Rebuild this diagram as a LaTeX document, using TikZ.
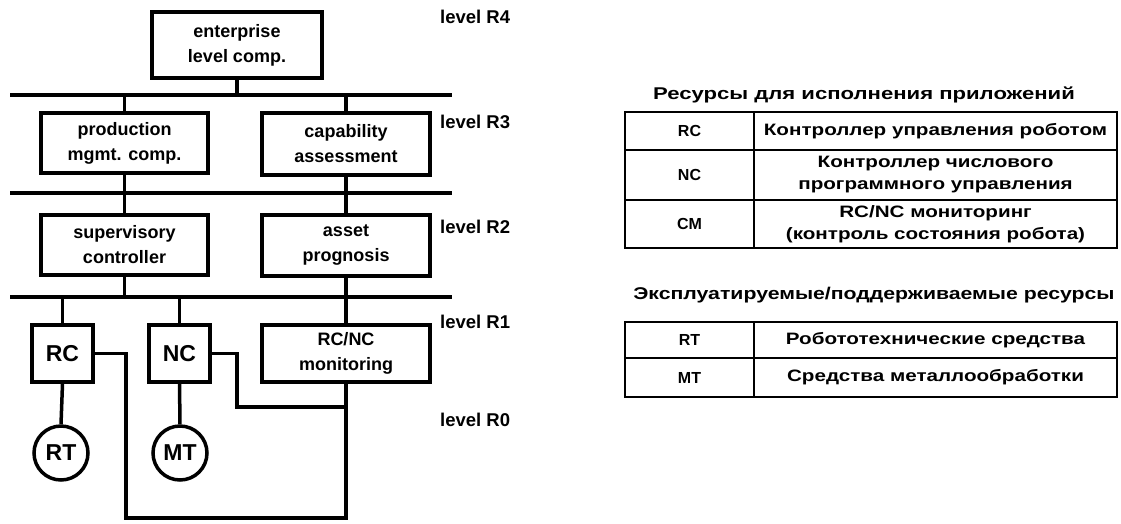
\documentclass[tikz,border=0pt]{standalone}
\usepackage{fontspec}
\setmainfont{Liberation Sans}
\newfontfamily\widefont[FakeStretch=1.25]{Liberation Sans}
\newfontfamily\titlefont[FakeStretch=1.3]{Liberation Sans}
\newfontfamily\titlefontb[FakeStretch=1.25]{Liberation Sans}
\usetikzlibrary{positioning}

\tikzset{
  box/.style={draw, line width=3.5pt, align=center, inner sep=0pt, font=\bfseries\fontsize{18}{25}\selectfont},
  ctrl/.style={draw, line width=3.5pt, inner sep=0pt, minimum width=61pt, minimum height=57pt, font=\bfseries\fontsize{23}{28}\selectfont},
  tool/.style={draw, circle, line width=3.5pt, inner sep=0pt, minimum size=54pt, font=\bfseries\fontsize{23}{28}\selectfont},
  bus/.style={line width=4pt},
  link/.style={line width=3.5pt},
  lvl/.style={anchor=west, inner sep=0pt, font=\bfseries\fontsize{18.5}{22}\selectfont},
  grid/.style={line width=2.5pt},
  tkey/.style={inner sep=0pt, font=\bfseries\fontsize{16}{21}\selectfont},
  tval/.style={inner sep=0pt, align=center, font=\widefont\bfseries\fontsize{16.5}{22}\selectfont},
  ttl/.style={inner sep=0pt, font=\titlefont\bfseries\fontsize{17}{22}\selectfont},
}

\begin{document}
\begin{tikzpicture}[x=1pt,y=-1pt]
  \useasboundingbox (0,0) rectangle (1121,523);

  % components
  \node[box, minimum width=170pt, minimum height=66pt] (ent) at (237,45) {enterprise\\level comp.};
  \node[box, minimum width=167pt, minimum height=60pt] (prod) at (124.5,143) {production\\mgmt. comp.};
  \node[box, minimum width=168pt, minimum height=62pt] (cap) at (346,144) {capability\\assessment};
  \node[box, minimum width=167pt, minimum height=60pt] (sup) at (124.5,245) {supervisory\\controller};
  \node[box, minimum width=168pt, minimum height=61pt] (asset) at (346,245.5) {asset\\prognosis};
  \node[ctrl] (rc) at (62.5,353.5) {RC};
  \node[ctrl] (nc) at (179.5,353.5) {NC};
  \node[box, minimum width=168pt, minimum height=57pt] (mon) at (346,353.5) {RC/NC\\monitoring};
  \node[tool] (rt) at (61,453) {RT};
  \node[tool] (mt) at (180,453) {MT};

  % buses
  \coordinate (bus1w) at (10,95);  \coordinate (bus1e) at (452,95);
  \coordinate (bus2w) at (10,193); \coordinate (bus2e) at (452,193);
  \coordinate (bus3w) at (10,297); \coordinate (bus3e) at (452,297);
  \draw[bus] (bus1w) -- (bus1e);
  \draw[bus] (bus2w) -- (bus2e);
  \draw[bus] (bus3w) -- (bus3e);

  \draw[link] (ent.south) -- (ent.south |- bus1w);
  \draw[link] (prod.north) -- (prod.north |- bus1w);
  \draw[link] (cap.north) -- (cap.north |- bus1w);
  \draw[link] (prod.south) -- (prod.south |- bus2w);
  \draw[link] (cap.south) -- (cap.south |- bus2w);
  \draw[link] (sup.north) -- (sup.north |- bus2w);
  \draw[link] (asset.north) -- (asset.north |- bus2w);
  \draw[link] (sup.south) -- (sup.south |- bus3w);
  \draw[link] (asset.south) -- (mon.north);
  \draw[link] (rc.north) -- (rc.north |- bus3w);
  \draw[link] (nc.north) -- (nc.north |- bus3w);
  \draw[link] (rc.south) -- (rt.north);
  \draw[link] (nc.south) -- (mt.north);

  \coordinate (rcbend) at (126,518);
  \coordinate (ncbend) at (237,407);
  \draw[link] (rc.east) -| (rcbend) -| (mon.south);
  \draw[link] (nc.east) -| (ncbend) -- (ncbend -| mon.south);

  % levels
  \node[lvl] (r4) at (440,17) {level R4};
  \node[lvl] (r3) at (440,122) {level R3};
  \node[lvl] (r2) at (440,227) {level R2};
  \node[lvl] (r1) at (440,322) {level R1};
  \node[lvl] (r0) at (440,420) {level R0};

  % tables
  \node[ttl] (title1) at (864,95) {Ресурсы для исполнения приложений};
  \draw[grid] (625,112) rectangle (1117,248);
  \draw[grid] (754,112) -- (754,248);
  \draw[grid] (625,150) -- (1117,150);
  \draw[grid] (625,200) -- (1117,200);
  \node[tkey] (krc) at (689.5,131) {RC};
  \node[tkey] (knc) at (689.5,175) {NC};
  \node[tkey] (kcm) at (689.5,224) {CM};
  \node[tval] (vrc) at (935.5,131) {Контроллер управления роботом};
  \node[tval] (vnc) at (935.5,175) {Контроллер числового\\программного управления};
  \node[tval] (vcm) at (935.5,224) {RC/NC мониторинг\\(контроль состояния робота)};

  \node[ttl, font=\titlefontb\bfseries\fontsize{17}{22}\selectfont] (title2) at (874,295) {Эксплуатируемые/поддерживаемые ресурсы};
  \draw[grid] (625,322) rectangle (1117,397);
  \draw[grid] (754,322) -- (754,397);
  \draw[grid] (625,358) -- (1117,358);
  \node[tkey] (krt) at (689.5,340) {RT};
  \node[tkey] (kmt) at (689.5,377.5) {MT};
  \node[tval] (vrt) at (935.5,340) {Робототехнические средства};
  \node[tval] (vmt) at (935.5,377.5) {Средства металлообработки};
\end{tikzpicture}
\end{document}
